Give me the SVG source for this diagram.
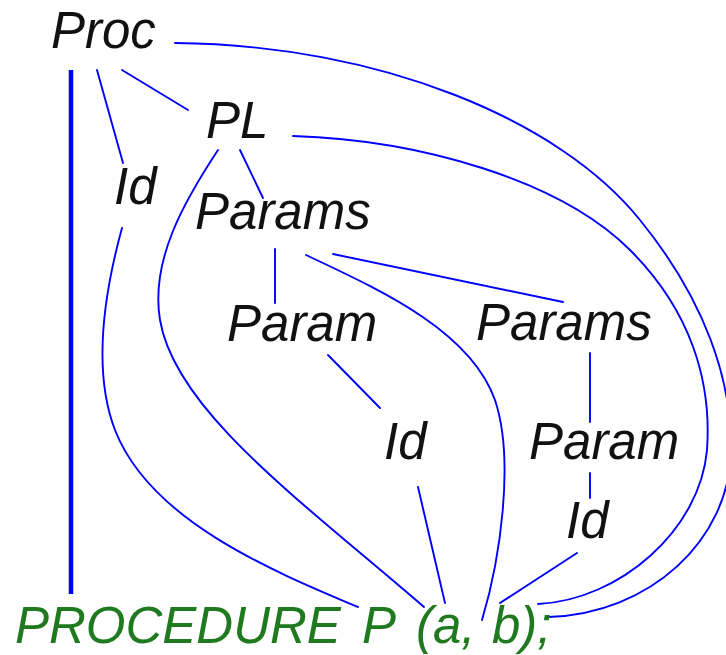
<svg xmlns="http://www.w3.org/2000/svg" width="726" height="655" viewBox="0 0 726 655">
  <style>
    .lbl { font-family: "Liberation Sans", Arial, sans-serif; font-style: italic; font-size: 51px; fill: #111; }
    .src { font-family: "Liberation Sans", Arial, sans-serif; font-style: italic; font-size: 51px; fill: #1f7a1f; }
    .edge { fill: none; stroke: #0000ff; stroke-width: 1.9; stroke-linecap: round; }
    .thick { fill: none; stroke: #0000ff; stroke-width: 4.5; }
  </style>
  <rect width="726" height="655" fill="#ffffff"/>

  <!-- connectors: tree edges and links down to the source text -->
  <g id="connectors">
    <line class="thick" x1="71" y1="70" x2="71" y2="594"/>
    <line class="edge" x1="97" y1="70" x2="123" y2="163"/>
    <line class="edge" x1="122" y1="70" x2="188" y2="110"/>
    <line class="edge" x1="240" y1="150" x2="263" y2="198"/>
    <line class="edge" x1="275" y1="249" x2="275" y2="303"/>
    <line class="edge" x1="333" y1="254" x2="563" y2="302"/>
    <line class="edge" x1="328" y1="355" x2="380" y2="408"/>
    <line class="edge" x1="590" y1="353" x2="590" y2="422"/>
    <line class="edge" x1="590" y1="473" x2="590" y2="498"/>
    <line class="edge" x1="418" y1="487" x2="445" y2="603"/>
    <line class="edge" x1="577" y1="553" x2="500" y2="603"/>
    <path class="edge" d="M122,228 C105,290 92,370 115,430 C150,520 270,570 358,607"/>
    <path class="edge" d="M218,150 C185,200 150,260 160,320 C175,410 300,500 424,607"/>
    <path class="edge" d="M306,255 C380,290 470,330 495,400 C515,460 500,560 482,620"/>
    <path class="edge" d="M293,136 C420,140 560,180 630,250 C690,310 712,380 707,450 C700,530 620,600 538,604"/>
    <path class="edge" d="M175,43 C380,45 560,120 640,220 C705,300 732,380 731,450 C730,540 650,614 548,617"/>
  </g>

  <g id="proc"><text class="lbl" x="51" y="48">Proc</text></g>
  <g id="pl"><text class="lbl" x="206" y="138">PL</text></g>
  <g id="id-name"><text class="lbl" x="114" y="204">Id</text></g>
  <g id="params-1"><text class="lbl" x="195" y="229">Params</text></g>
  <g id="param-1"><text class="lbl" x="227" y="341">Param</text></g>
  <g id="params-2"><text class="lbl" x="476" y="340">Params</text></g>
  <g id="id-a"><text class="lbl" x="384" y="459">Id</text></g>
  <g id="param-2"><text class="lbl" x="529" y="459">Param</text></g>
  <g id="id-b"><text class="lbl" x="566" y="538">Id</text></g>
  <g id="source"><text class="src" y="643"><tspan x="15">PROCEDURE</tspan> <tspan x="362">P</tspan> <tspan x="416">(a,</tspan> <tspan x="492">b);</tspan></text></g>
</svg>
